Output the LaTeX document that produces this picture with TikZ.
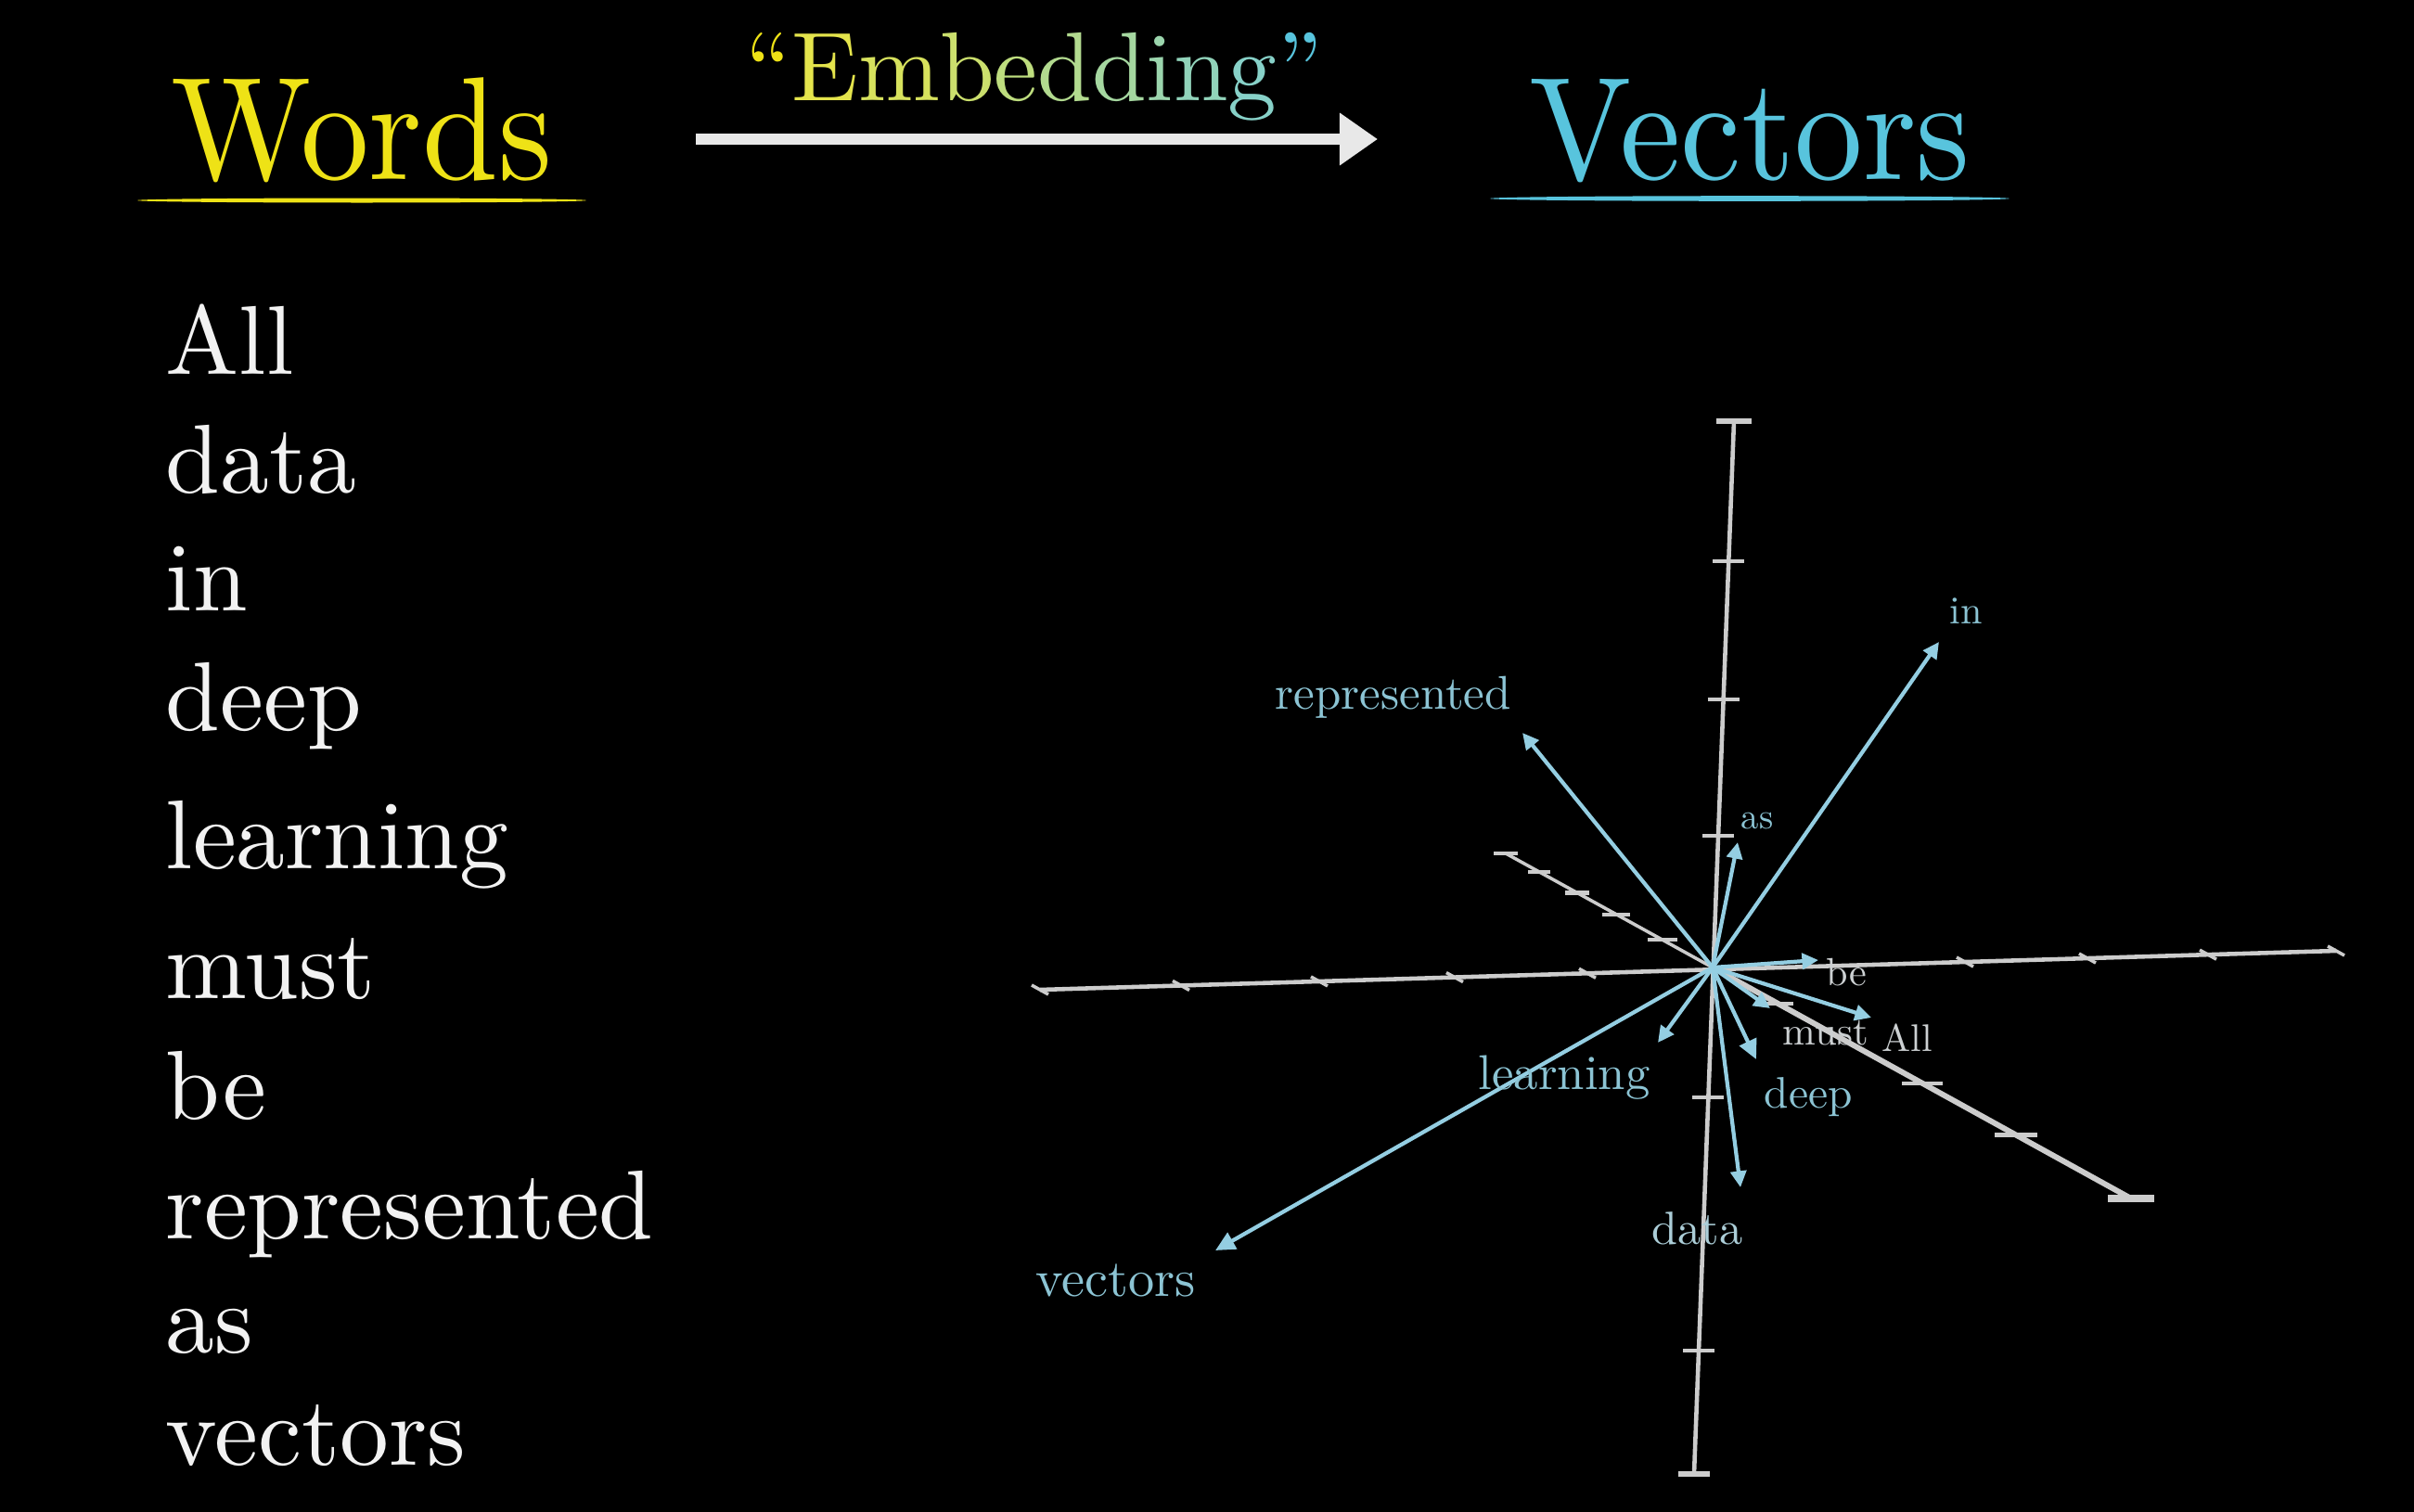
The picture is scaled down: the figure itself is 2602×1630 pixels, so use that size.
\documentclass[tikz,border=0pt]{standalone}
\usepackage{fontspec}
\setmainfont{lmroman10-regular.otf}
\usepackage{graphicx}
\usetikzlibrary{arrows.meta, positioning, calc}
\definecolor{cWords}{RGB}{238,226,22}
\definecolor{cVec}{RGB}{88,196,221}
\definecolor{cAxis}{RGB}{204,204,204}
\definecolor{cArrow}{RGB}{148,206,226}
\definecolor{cLabel}{RGB}{140,196,212}
\definecolor{cLabelGrey}{RGB}{204,208,210}
\definecolor{cLabelMid}{RGB}{172,206,216}
\definecolor{cHead}{RGB}{232,232,232}
\definecolor{cText}{RGB}{242,242,242}

\newcommand{\embch}[2]{\textcolor{cWords!#1!cVec!84!white}{#2}}

\begin{document}
\begin{tikzpicture}[
  x=0.01cm, y=-0.01cm,
  title/.style={font=\fontsize{45}{54}\selectfont, inner sep=0pt, anchor=base},
  word/.style={font=\fontsize{30}{36}\selectfont, text=cText, inner sep=0pt,
               anchor=base west},
  axis/.style={draw=cAxis, line width=1.3pt},
  tick/.style={draw=cAxis, line width=1.2pt},
  axiscap/.style={draw=cAxis, line width=1.9pt},
  vec/.style={draw=cArrow, line width=1.2pt,
              -{Triangle[length=5pt, width=4.8pt]}},
  lbl/.style={text=cLabel, inner sep=0pt, anchor=base west}
]

%% ── CANVAS ───────────────────────────────────────────────────────────────────

\fill[black] (0,0) rectangle (2602,1630);
\useasboundingbox (0,0) rectangle (2602,1630);

%% ── TITLES ───────────────────────────────────────────────────────────────────

\node[title, text=cWords] (words) at (390,193) {\scalebox{0.93}[1]{Words}};
\node[title, text=cVec] (vectors) at (1886,193) {\scalebox{0.93}[1]{Vectors}};

\fill[cWords] (390,216) ellipse [x radius=2.42cm, y radius=0.025cm];
\fill[cVec] (1886,214) ellipse [x radius=2.80cm, y radius=0.028cm];

\node[font=\fontsize{30}{36}\selectfont, inner sep=0pt, anchor=base] (embed) at (1115,108) {%
  \textcolor{cWords}{“}\embch{90}{E}\embch{80}{m}\embch{70}{b}\embch{60}{e}%
  \embch{50}{d}\embch{40}{d}\embch{32}{i}\embch{24}{n}\embch{16}{g}%
  \textcolor{cVec}{”}};

\coordinate (embStart) at (750,150);
\coordinate (embEnd) at (1485,150);
\draw[draw=cHead, line width=3.4pt,
      -{Triangle[length=0.41cm, width=0.54cm, fill=cHead]}] (embStart) -- (embEnd);

%% ── WORD LIST ────────────────────────────────────────────────────────────────

\foreach \nm/\yy/\txt in {wAll/403/All, wData/531/data, wIn/658/in, wDeep/787/deep,
    wLearning/936/learning, wMust/1076/must, wBe/1206/be,
    wRepresented/1335/represented, wAs/1458/as, wVectors/1579/vectors}
  \node[word] (\nm) at (178,\yy) {\txt};

%% ── AXES ─────────────────────────────────────────────────────────────────────

\coordinate (O) at (1846,1043);
\coordinate (vTop) at (1869,454);
\coordinate (vBot) at (1826,1589);
\coordinate (hL) at (1121,1067);
\coordinate (hR) at (2518,1025);
\coordinate (dB) at (1623,920);
\coordinate (dF) at (2297,1292);

\draw[axis] (vTop) -- (vBot);
\draw[axis] (hL) -- (hR);
\draw[axis, line width=1.0pt] (dB) -- (O);
\draw[axis, line width=1.7pt] (O) -- (dF);

% vertical ticks
\foreach \yy in {605,754,901,1183,1456}
  \draw[tick] ($(vTop)!{(\yy-454)/1135}!(vBot)$) +(-17,0) -- +(17,0);
\draw[axiscap] (vTop) +(-19,0) -- +(19,0);
\draw[axiscap] (vBot) +(-17,0) -- +(17,0);

% depth ticks
\foreach \xx/\w in {1659/12, 1700/13, 1742/15, 1792/16, 1917/16, 2072/22, 2173/23}
  \draw[tick] ($(dB)!{(\xx-1623)/674}!(dF)$) +(-\w,0) -- +(\w,0);
\draw[axiscap, line width=1.2pt] (dB) +(-13,0) -- +(13,0);
\draw[axiscap, line width=2.4pt] (dF) +(-25,0) -- +(25,0);

% horizontal ticks
\foreach \xx in {1121,1273,1422,1568,1711,2118,2250,2380,2518}
  \draw[tick, line width=1.0pt] ($(hL)!{(\xx-1121)/1397}!(hR)$) +(-9,-5) -- +(9,5);

%% ── WORD VECTORS ─────────────────────────────────────────────────────────────

\coordinate (tIn) at (2090,692);
\coordinate (tRepresented) at (1641,790);
\coordinate (tAs) at (1873,908);
\coordinate (tBe) at (1960,1035);
\coordinate (tMust) at (1908,1087);
\coordinate (tAll) at (2017,1097);
\coordinate (tDeep) at (1893,1142);
\coordinate (tLearning) at (1787,1124);
\coordinate (tData) at (1876,1280);
\coordinate (tVectors) at (1310,1348);

\draw[vec] (O) -- (tIn);
\draw[vec] (O) -- (tRepresented);
\draw[vec] (O) -- (tAs);
\draw[vec] (O) -- (tBe);
\draw[vec] (O) -- (tMust);
\draw[vec] (O) -- (tAll);
\draw[vec, -{Triangle[length=6pt, width=5.6pt]}] (O) -- (tDeep);
\draw[vec] (O) -- (tLearning);
\draw[vec] (O) -- (tData);
\draw[vec, -{Triangle[length=6pt, width=5.6pt]}] (O) -- (tVectors);

%% ── VECTOR LABELS ────────────────────────────────────────────────────────────

\node[lbl, font=\fontsize{12}{14}\selectfont] (lIn) at (2101,672) {in};
\node[lbl, font=\fontsize{14.5}{17}\selectfont] (lRepresented) at (1374,764) {represented};
\node[lbl, font=\fontsize{11}{13}\selectfont] (lAs) at (1876,893) {as};
\node[lbl, text=cLabelGrey, font=\fontsize{12}{14}\selectfont] (lBe) at (1968,1062) {be};
\node[lbl, text=cLabelGrey, font=\fontsize{12.2}{14}\selectfont] (lMust) at (1921,1126) {must};
\node[lbl, text=cLabelGrey, font=\fontsize{11.8}{14}\selectfont] (lAll) at (2028,1133) {All};
\node[lbl, font=\fontsize{13.5}{16}\selectfont] (lDeep) at (1901,1194) {deep};
\node[lbl, font=\fontsize{15}{18}\selectfont] (lLearning) at (1593,1174) {learning};
\node[lbl, text=cLabelMid, font=\fontsize{14.3}{17}\selectfont] (lData) at (1780,1341) {data};
\node[lbl, font=\fontsize{16}{19}\selectfont] (lVectors) at (1116,1397) {vectors};

\end{tikzpicture}
\end{document}
